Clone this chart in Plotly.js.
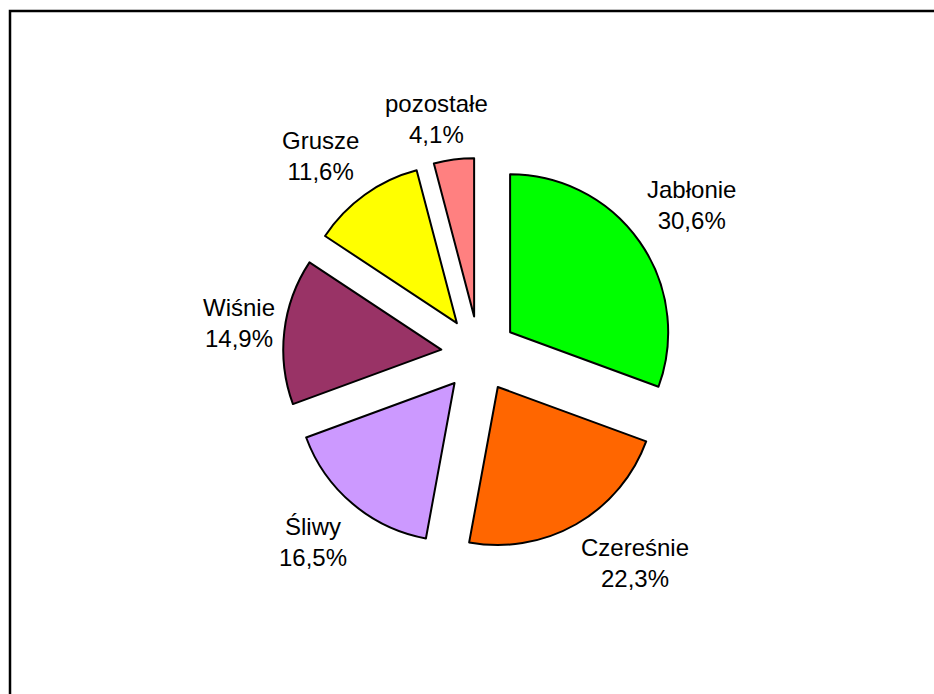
<!DOCTYPE html>
<html>
<head>
<meta charset="utf-8">
<script src="https://cdn.plot.ly/plotly-3.0.1.min.js"></script>
<style>html,body{margin:0;padding:0;background:#fff;}#chart{width:934px;height:694px;}</style>
</head>
<body>
<div id="chart"></div>
<script>
const categories = ["Jabłonie", "Czereśnie", "Śliwy", "Wiśnie", "Grusze", "pozostałe"];
const shares = [30.6, 22.3, 16.5, 14.9, 11.6, 4.1];
const sliceColors = ["#00FF00", "#FF6600", "#CC99FF", "#993366", "#FFFF00", "#FF8080"];

const W = 934, H = 694;
const cx = 479, cy = 354, half = 196;
const FONT = "Liberation Sans, Arial, sans-serif";
const FS = 24;

const trace = {
  type: "pie",
  labels: categories,
  values: shares,
  sort: false,
  direction: "clockwise",
  rotation: 0,
  pull: categories.map(() => 0.24),
  marker: { colors: sliceColors, line: { color: "#000", width: 2 } },
  textinfo: "none",
  hoverinfo: "none",
  showlegend: false,
  domain: {
    x: [(cx - half) / W, (cx + half) / W],
    y: [1 - (cy + half) / H, 1 - (cy - half) / H]
  }
};

// Data labels placed outside each slice along its mid-angle (Excel style)
const total = shares.reduce((a, b) => a + b, 0);
const labelDist = 205;
const annotations = [];
let cum = 0;
const ctx = document.createElement("canvas").getContext("2d");
ctx.font = FS + "px " + FONT;
shares.forEach((v, i) => {
  const frac = v / total;
  const mid = (cum + frac / 2) * 2 * Math.PI;
  cum += frac;
  const dx = Math.sin(mid), dy = -Math.cos(mid);
  const pct = (frac * 100).toFixed(1).replace(".", ",") + "%";
  const w = Math.max(ctx.measureText(categories[i]).width, ctx.measureText(pct).width);
  const h = FS * 2.6;
  const clamp = t => Math.max(-1, Math.min(1, t));
  const px = cx + labelDist * dx + (w / 2) * clamp(dx * 2.5);
  const py = cy + labelDist * dy + (h / 2) * clamp(dy * 2);
  annotations.push({
    xref: "paper", yref: "paper",
    x: px / W, y: 1 - py / H,
    xanchor: "center", yanchor: "middle",
    text: categories[i] + "<br>" + pct,
    showarrow: false,
    font: { family: FONT, size: FS, color: "#000" }
  });
});

const layout = {
  width: W, height: H,
  margin: { l: 0, r: 0, t: 0, b: 0 },
  paper_bgcolor: "#fff",
  separators: ", ",
  font: { family: FONT, size: FS, color: "#000" },
  annotations: annotations,
  shapes: [{
    type: "rect", xref: "paper", yref: "paper",
    x0: 10 / W, x1: 1.02, y0: -0.02, y1: 1 - 11 / H,
    line: { color: "#000", width: 2.5 }, fillcolor: "rgba(0,0,0,0)"
  }]
};

Plotly.newPlot("chart", [trace], layout, { staticPlot: true });
</script>
</body>
</html>
